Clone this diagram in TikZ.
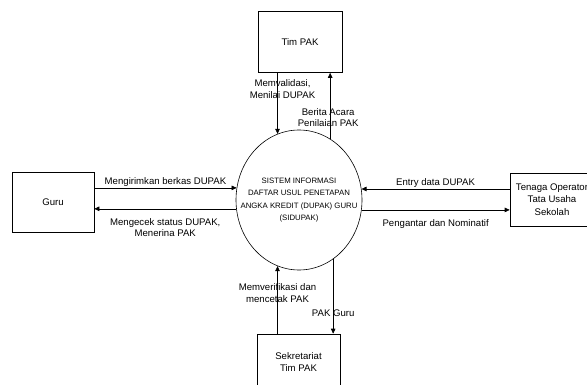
\documentclass[tikz,border=0pt]{standalone}
\usepackage{fontspec}
\setmainfont{Liberation Sans}
\usepackage{tikz}
\usetikzlibrary{positioning}
\usetikzlibrary{arrows.meta}
\usetikzlibrary{shapes.geometric}

\begin{document}
\begin{tikzpicture}[
      x=1pt, y=-1pt, % 以像素为单位, y 向下
      every node/.style={font=\fontsize{9.6}{11.5}\selectfont, align=center},
      entitas/.style={draw, line width=0.6pt, inner sep=0pt},
      alir/.style={line width=0.6pt, -{Triangle[length=5pt,width=4.5pt]}},
      ket/.style={inner sep=1pt}
    ]
    \useasboundingbox (0,0) rectangle (587,385);
    % 中间的过程 (圆)
    \node[draw, ellipse, line width=0.6pt, inner sep=0pt,
          minimum width=126pt, minimum height=140pt] (sis) at (299,200) {};
    \node[font=\fontsize{7.8}{12.2}\selectfont] (sisteks) at (sis.center)
        {SISTEM INFORMASI\\DAFTAR USUL PENETAPAN\\ANGKA KREDIT (DUPAK) GURU\\(SIDUPAK)};
    % 外部实体
    \node[entitas, minimum width=82pt, minimum height=60pt] (guru) at (53,202) {Guru};
    \node[entitas, minimum width=84pt, minimum height=61pt] (tim) at (300,42) {Tim PAK};
    \node[entitas, minimum width=84pt, minimum height=53pt,
          font=\fontsize{9.6}{12.5}\selectfont] (op) at (552,199.5)
        {Tenaga Operator\\Tata Usaha\\Sekolah};
    \node[entitas, minimum width=83pt, minimum height=56pt,
          font=\fontsize{9.6}{12.5}\selectfont] (sek) at (298.5,362)
        {Sekretariat\\Tim PAK};
    % 上: Tim PAK
    \draw[alir] (tim.south -| sis.108.5) -- (sis.108.5)
        node[pos=0.27, ket, xshift=5pt] {Memvalidasi,\\Menilai DUPAK};
    \draw[alir] (sis.63) -- (tim.south -| sis.63)
        node[pos=0.32, ket, xshift=-2pt] {Berita Acara\\Penilaian PAK};
    % 左: Guru
    \draw[alir] (guru.east |- sis.169.1) -- (sis.169.1)
        node[midway, above, ket] {Mengirimkan berkas DUPAK};
    \draw[alir] (sis.188.2) -- (guru.east |- sis.188.2)
        node[midway, below=8pt, ket] {Mengecek status DUPAK,\\Menerina PAK};
    % 右: Tenaga Operator
    \draw[alir] (op.west |- sis.10.9) -- (sis.10.9)
        node[midway, above, ket] {Entry data DUPAK};
    \draw[alir] (sis.351.8) -- (op.west |- sis.351.8)
        node[midway, below=8pt, ket] {Pengantar dan Nominatif};
    % 下: Sekretariat
    \draw[alir] (sek.north -| sis.252.3) -- (sis.252.3)
        node[pos=0.6, ket] {Memverifikasi dan\\mencetak PAK};
    \draw[alir] (sis.300) -- (sek.north -| sis.300)
        node[pos=0.72, ket] {PAK Guru};
  \end{tikzpicture}
\end{document}
